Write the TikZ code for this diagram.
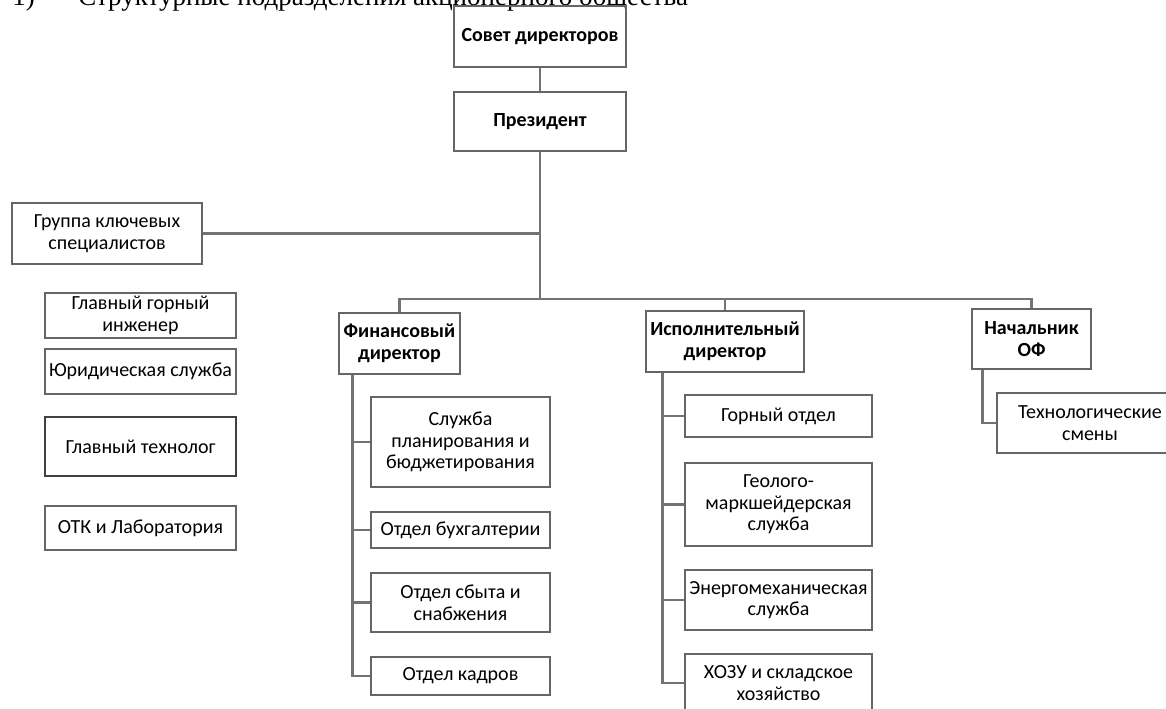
\documentclass[tikz,border=0pt]{standalone}
\usepackage{fontspec}
\setmainfont{Carlito}
\newfontfamily\headfont{Liberation Serif}
\usepackage{tikz}
\usetikzlibrary{calc}

\tikzset{
	box/.style={draw=black!60, line width=0.8pt, inner sep=0pt, align=center, text=black,
		font=\fontsize{10}{10.75}\selectfont},
	bbox/.style={box, font=\fontsize{10}{10.75}\selectfont\bfseries},
	link/.style={draw=black!55, line width=1.3pt}
}

\begin{document}
\begin{tikzpicture}[x=0.5pt,y=-0.5pt]
\useasboundingbox (0,0) rectangle (1166,708);
\clip (0,0) rectangle (1166,708);

\node (num) at (12,5.5) [anchor=base west, inner sep=0pt, font=\headfont\fontsize{13.5}{14}\selectfont] {1)};
\node (title) at (78,5.5) [anchor=base west, inner sep=0pt, font=\headfont\fontsize{13.5}{14}\selectfont] {Структурные подразделения акционерного общества};

\node (sovet) at (540,36.5) [bbox, minimum width=86pt, minimum height=30.5pt] {Совет директоров};
\node (prez) at (540,121.5) [bbox, minimum width=86pt, minimum height=29.5pt] {Президент};
\node (gruppa) at (107,233.5) [box, minimum width=95pt, minimum height=30.5pt] {Группа ключевых\\специалистов};

\node (ggi) at (140.5,315.5) [box, minimum width=95.5pt, minimum height=22.5pt] {Главный горный\\инженер};
\node (jur) at (140.5,371.5) [box, minimum width=95.5pt, minimum height=22.5pt] {Юридическая служба};
\node (gtech) at (140.5,446.5) [box, line width=1.3pt, draw=black!75, minimum width=95.5pt, minimum height=29.5pt] {Главный технолог};
\node (otk) at (140.5,528) [box, minimum width=95.5pt, minimum height=22pt] {ОТК и Лаборатория};

\node (fin) at (399.5,343.5) [bbox, minimum width=60.5pt, minimum height=30.5pt] {Финансовый\\директор};
\node (isp) at (725,341.5) [bbox, minimum width=79pt, minimum height=30.5pt] {Исполнительный\\директор};
\node (nof) at (1031.5,339) [bbox, minimum width=59.5pt, minimum height=30pt] {Начальник\\ОФ};

\node (plan) at (460.5,442) [box, minimum width=89.5pt, minimum height=45pt] {Служба\\планирования и\\бюджетирования};
\node (buh) at (460.5,530) [box, minimum width=89.5pt, minimum height=18pt] {Отдел бухгалтерии};
\node (sbyt) at (460.5,602.5) [box, minimum width=89.5pt, minimum height=29.5pt] {Отдел сбыта и\\снабжения};
\node (kadr) at (460.5,676) [box, minimum width=89.5pt, minimum height=19pt] {Отдел кадров};

\node (gorn) at (778.5,416) [box, minimum width=93.5pt, minimum height=21pt] {Горный отдел};
\node (geol) at (778.5,504.5) [box, minimum width=93.5pt, minimum height=41.5pt] {Геолого-\\маркшейдерская\\служба};
\node (energ) at (778.5,600) [box, minimum width=93.5pt, minimum height=30pt] {Энергомеханическая\\служба};
\node (hozu) at (778.5,683) [box, minimum width=93.5pt, minimum height=29pt] {ХОЗУ и складское\\хозяйство};

\node (smeny) at (1090,423) [box, minimum width=93pt, minimum height=30pt] {Технологические\\смены};

\coordinate (bus) at (540,299);

\draw [link] (sovet) -- (prez);
\draw [link] (prez) -- (bus);
\draw [link] (gruppa.east) -- (gruppa.east -| prez.south);
\draw [link] (fin.north) |- (nof.north |- bus) -- (nof.north);
\draw [link] (isp.north) -- (isp.north |- bus);

\foreach \c in {plan,buh,sbyt,kadr}
	\draw [link] ([xshift=7pt]fin.south west) |- (\c.west);

\foreach \c in {gorn,geol,energ,hozu}
	\draw [link] ([xshift=8.5pt]isp.south west) |- (\c.west);

\draw [link] ([xshift=5.5pt]nof.south west) |- (smeny.west);

\end{tikzpicture}
\end{document}
